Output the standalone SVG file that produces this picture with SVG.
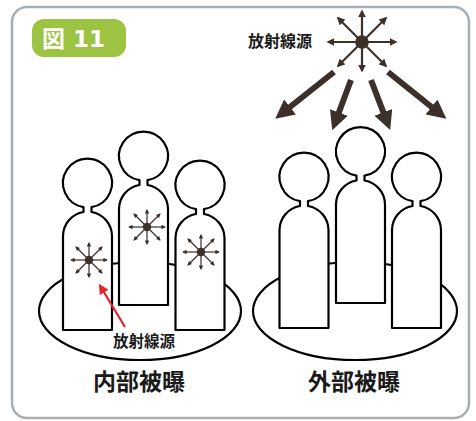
<svg xmlns="http://www.w3.org/2000/svg" xmlns:xlink="http://www.w3.org/1999/xlink" width="476" height="421" viewBox="0 0 476 421">
  <style>
    .frame { fill: #ffffff; stroke: #a6aeb6; stroke-width: 2.5; }
    .badge { fill: #9dc343; }
    .badge-text { fill: #ffffff; font-family: "DejaVu Sans", "Noto Sans CJK JP", sans-serif; font-weight: bold; font-size: 23px; }
    .label { fill: #1a1a1a; font-family: "Noto Sans CJK JP", sans-serif; font-weight: bold; text-anchor: middle; }
    .plate { fill: #ffffff; stroke: #000000; stroke-width: 2.2; }
    .person { fill: #ffffff; stroke: #000000; stroke-width: 2.2; stroke-linejoin: round; }
    .ray-s { stroke: #3b302a; stroke-width: 1.2; fill: none; marker-end: url(#head-s); }
    .ray-l { stroke: #3b302a; stroke-width: 2.2; fill: none; marker-end: url(#head-l); }
    .core { fill: #3b302a; }
    .beam { stroke: #3b302a; stroke-width: 6; fill: none; marker-end: url(#head-beam); }
    .pointer { stroke: #e8232a; stroke-width: 2.2; fill: none; marker-end: url(#head-red); }
  </style>
  <defs>
    <marker id="head-s" viewBox="0 0 10 10" refX="8" refY="5" markerUnits="userSpaceOnUse" markerWidth="4.5" markerHeight="4.5" orient="auto">
      <path d="M0,0 L10,5 L0,10 z" fill="#3b302a"/>
    </marker>
    <marker id="head-l" viewBox="0 0 10 10" refX="8" refY="5" markerUnits="userSpaceOnUse" markerWidth="8" markerHeight="8" orient="auto">
      <path d="M0,0 L10,5 L0,10 z" fill="#3b302a"/>
    </marker>
    <marker id="head-beam" viewBox="0 0 10 10" refX="3" refY="5" markerUnits="userSpaceOnUse" markerWidth="19" markerHeight="19" orient="auto">
      <path d="M0,0 L10,5 L0,10 z" fill="#3b302a"/>
    </marker>
    <marker id="head-red" viewBox="0 0 10 10" refX="4" refY="5" markerUnits="userSpaceOnUse" markerWidth="11" markerHeight="10" orient="auto">
      <path d="M0,0 L10,5 L0,10 z" fill="#e8232a"/>
    </marker>
    <!-- small eight-way radiation burst, centred on the origin -->
    <g id="burst-s">
      <line class="ray-s" x1="0" y1="0" x2="18" y2="0"/>
      <line class="ray-s" x1="0" y1="0" x2="-18" y2="0"/>
      <line class="ray-s" x1="0" y1="0" x2="0" y2="-17"/>
      <line class="ray-s" x1="0" y1="0" x2="0" y2="17"/>
      <line class="ray-s" x1="0" y1="0" x2="13" y2="-13"/>
      <line class="ray-s" x1="0" y1="0" x2="-13" y2="-13"/>
      <line class="ray-s" x1="0" y1="0" x2="13" y2="13"/>
      <line class="ray-s" x1="0" y1="0" x2="-13" y2="13"/>
      <circle class="core" cx="0" cy="0" r="4.2"/>
    </g>
  </defs>

  <!-- outer panel -->
  <rect class="frame" x="12" y="7" width="457" height="411" rx="15" ry="15"/>

  <!-- figure number badge -->
  <g id="badge">
    <rect class="badge" x="32" y="19" width="94" height="38" rx="12" ry="12"/>
    <text class="badge-text" x="42" y="47">図 11</text>
  </g>

  <!-- ===== internal exposure group ===== -->
  <g id="internal">
    <ellipse class="plate" cx="140" cy="311" rx="101" ry="49"/>
    <g id="person-in-1">
      <path class="person" d="M83.5,207.2 A24.5,24.5 0 1 1 91.5,207.2 L91.5,212 A24.5,24.5 0 0 1 112,236 L112,330 L63,330 L63,236 A24.5,24.5 0 0 1 83.5,212 Z"/>
      <use xlink:href="#burst-s" transform="translate(89,260)"/>
    </g>
    <g id="person-in-2">
      <path class="person" d="M139.5,180.2 A24.5,24.5 0 1 1 147.5,180.2 L147.5,185 A24.5,24.5 0 0 1 168,209 L168,305 L119,305 L119,209 A24.5,24.5 0 0 1 139.5,185 Z"/>
      <use xlink:href="#burst-s" transform="translate(147,227)"/>
    </g>
    <g id="person-in-3">
      <path class="person" d="M196,209.2 A24.5,24.5 0 1 1 204,209.2 L204,214 A24.5,24.5 0 0 1 224.5,238 L224.5,330 L175.5,330 L175.5,238 A24.5,24.5 0 0 1 196,214 Z"/>
      <use xlink:href="#burst-s" transform="translate(201,252)"/>
    </g>
    <text class="label" x="144" y="347" font-size="15.5">放射線源</text>
    <text class="label" x="139" y="390" font-size="23">内部被曝</text>
  </g>

  <!-- ===== external exposure group ===== -->
  <g id="external">
    <ellipse class="plate" cx="355" cy="311" rx="102" ry="49"/>
    <g id="person-ex-1">
      <path class="person" d="M300,201.2 A24.5,24.5 0 1 1 308,201.2 L308,206 A24.5,24.5 0 0 1 328.5,230 L328.5,328 L279.5,328 L279.5,230 A24.5,24.5 0 0 1 300,206 Z"/>
    </g>
    <g id="person-ex-2">
      <path class="person" d="M356.5,175.7 A24.5,24.5 0 1 1 364.5,175.7 L364.5,180.5 A24.5,24.5 0 0 1 385,204.5 L385,303 L336,303 L336,204.5 A24.5,24.5 0 0 1 356.5,180.5 Z"/>
    </g>
    <g id="person-ex-3">
      <path class="person" d="M412.5,201.2 A24.5,24.5 0 1 1 420.5,201.2 L420.5,206 A24.5,24.5 0 0 1 441,230 L441,328 L392,328 L392,230 A24.5,24.5 0 0 1 412.5,206 Z"/>
    </g>
    <text class="label" x="354" y="390" font-size="23">外部被曝</text>
  </g>

  <!-- external source -->
  <g id="source-ext">
    <line class="ray-l" x1="362" y1="42" x2="396" y2="42"/>
    <line class="ray-l" x1="362" y1="42" x2="328" y2="42"/>
    <line class="ray-l" x1="362" y1="42" x2="362" y2="11"/>
    <line class="ray-l" x1="362" y1="42" x2="362" y2="71"/>
    <line class="ray-l" x1="362" y1="42" x2="386" y2="18"/>
    <line class="ray-l" x1="362" y1="42" x2="338" y2="18"/>
    <line class="ray-l" x1="362" y1="42" x2="386" y2="66"/>
    <line class="ray-l" x1="362" y1="42" x2="338" y2="66"/>
    <circle class="core" cx="362" cy="42" r="6.8"/>
    <text class="label" x="280" y="47" font-size="16">放射線源</text>
  </g>

  <!-- connectors: incoming beams and the internal-source pointer -->
  <g id="connectors">
    <line class="beam" x1="334" y1="72" x2="285.6" y2="110.5"/>
    <line class="beam" x1="351" y1="80" x2="336.9" y2="117.8"/>
    <line class="beam" x1="371" y1="80" x2="385.4" y2="117.6"/>
    <line class="beam" x1="388" y1="72" x2="436" y2="110.5"/>
    <line class="pointer" x1="125" y1="327" x2="102" y2="289"/>
  </g>
</svg>
